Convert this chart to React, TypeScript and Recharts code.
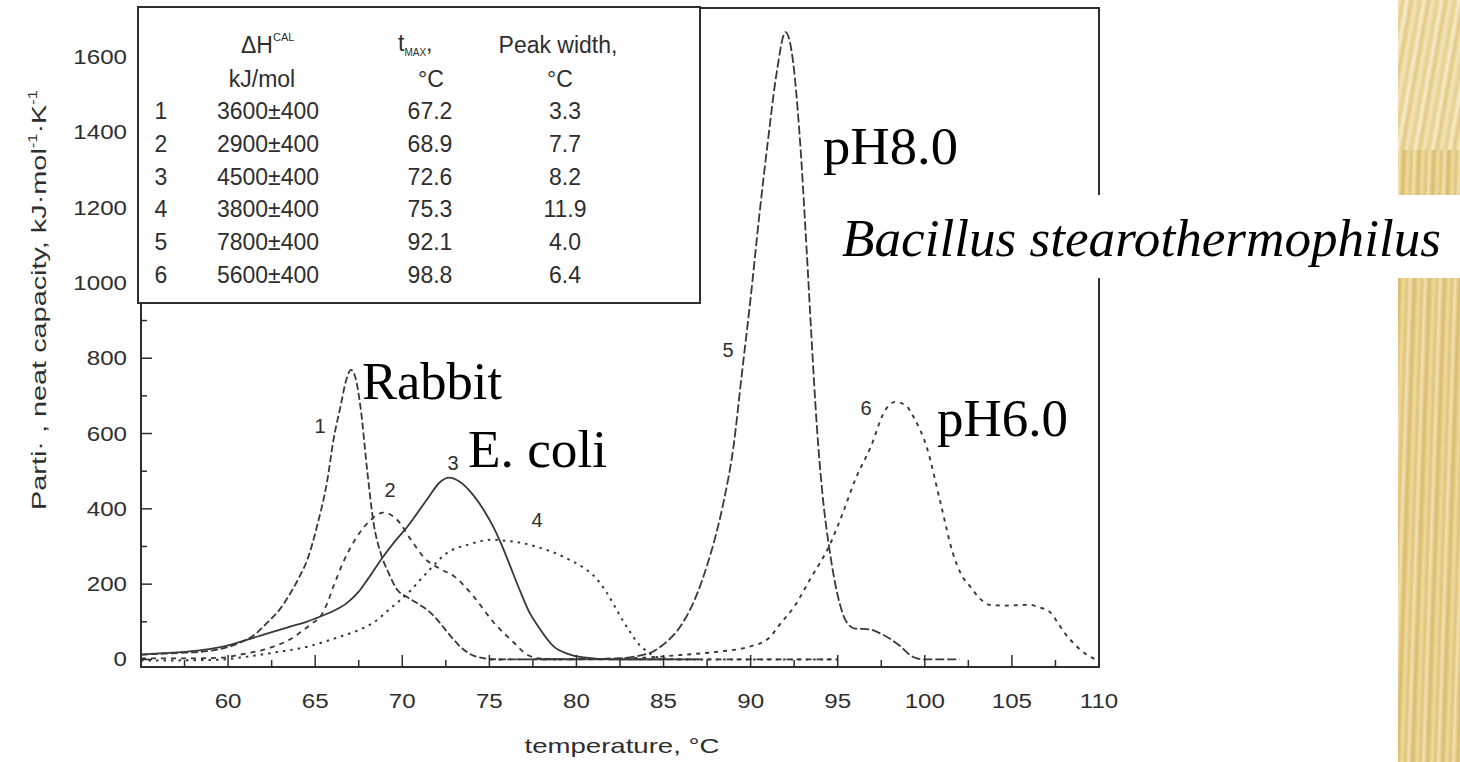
import React from 'react';
import { LineChart, Line, XAxis, YAxis, ReferenceArea } from 'recharts';

// scanned DSC curves, [temperature °C, partial heat capacity]
const curve1: [number, number][] = [
  [55, 13], [57, 17], [58.8, 22], [60, 33], [60.7, 45], [61.5, 65], [62.25, 98], [63, 135],
  [63.6, 178], [64.1, 220], [64.55, 265], [65.1, 353], [65.7, 477], [66.05, 583], [66.45, 671],
  [66.8, 745], [67.05, 769], [67.3, 750], [67.6, 671], [68.0, 496], [68.35, 363], [68.75, 284],
  [69.2, 231], [69.7, 186], [70.3, 165], [71.0, 145], [71.6, 125], [72.2, 95], [72.6, 72],
  [73.0, 50], [73.5, 27], [74.0, 12], [74.5, 5], [75.5, 0], [85, 0],
];
const curve2: [number, number][] = [
  [55, 3], [58, 3], [59.7, 5], [60.7, 13], [61.7, 22], [62.6, 34], [63.5, 52], [64.15, 72],
  [64.8, 95], [65.3, 114], [65.7, 150], [66.05, 194], [66.6, 257], [67.4, 326], [68.2, 371],
  [68.9, 390], [69.7, 371], [70.5, 318], [71.3, 268], [72.2, 240], [73.0, 220], [74.1, 167],
  [75.25, 98], [76.4, 45], [77.2, 12], [78, 2], [80, 0], [95, 0],
];
const curve3: [number, number][] = [
  [55, 13], [56.8, 18], [58.5, 25], [59.7, 34], [60.7, 47], [61.7, 61], [62.7, 75], [63.6, 88],
  [64.5, 100], [65.3, 114], [66.1, 130], [66.85, 151], [67.5, 180], [68.0, 212], [68.9, 273],
  [69.6, 315], [70.3, 353], [70.65, 375], [71.5, 430], [72.1, 468], [72.7, 483], [73.3, 472],
  [74.1, 435], [74.7, 395], [75.25, 350], [75.7, 305], [76.05, 265], [76.8, 178], [77.3, 125],
  [77.8, 88], [78.7, 34], [79.5, 15], [80.3, 6], [82.2, 0], [87, 0],
];
const curve4: [number, number][] = [
  [55, -3], [58, -2], [59.7, 0], [60.7, 5], [62.6, 18], [64.55, 34], [66.45, 61], [67.5, 78],
  [68.35, 98], [69.3, 135], [70.3, 175], [71.5, 235], [72.6, 284], [73.8, 305], [75.1, 318],
  [76.0, 315], [76.8, 310], [77.8, 298], [78.7, 284], [79.5, 267], [80.3, 247], [81.2, 212],
  [81.7, 180], [82.2, 141], [82.7, 100], [83.1, 72], [83.5, 45], [83.9, 27], [84.7, 5], [86, 0],
  [95, 0],
];
const curve5: [number, number][] = [
  [78, 0], [82, 2], [84, 14], [85, 40], [86, 90], [86.8, 160], [87.5, 250], [88, 330],
  [88.5, 430], [89, 560], [89.5, 760], [90, 960], [90.5, 1180], [91, 1380], [91.5, 1560],
  [92, 1666], [92.4, 1600], [92.8, 1400], [93.2, 1100], [93.5, 850], [93.8, 620], [94.1, 450],
  [94.5, 300], [95, 170], [95.5, 100], [96, 82], [96.8, 80], [97.5, 68], [98, 55], [98.6, 35],
  [99.2, 10], [99.6, 2], [100, 0], [102, 0],
];
const curve6: [number, number][] = [
  [75, 0], [82, 2], [84, 5], [86, 12], [88, 20], [90, 35], [91, 55], [91.8, 100], [92.5, 140],
  [93.4, 212], [94.6, 310], [95.3, 390], [96.0, 477], [96.9, 565], [97.7, 660], [98.3, 684],
  [98.9, 675], [99.4, 640], [100.1, 565], [100.9, 416], [101.6, 284], [102.1, 225], [102.6, 194],
  [103.2, 160], [103.7, 145], [104.5, 143], [106.0, 145], [106.6, 138], [107.2, 125],
  [107.6, 100], [108.0, 72], [108.5, 45], [108.9, 27], [109.4, 10], [109.8, 0],
];

const xTicks = [55, 57.5, 60, 62.5, 65, 67.5, 70, 72.5, 75, 77.5, 80, 82.5, 85, 87.5, 90, 92.5, 95, 97.5, 100, 102.5, 105, 107.5, 110];
const xLabels = [60, 65, 70, 75, 80, 85, 90, 95, 100, 105, 110];
const yTicks = [0, 100, 200, 300, 400, 500, 600, 700, 800, 900, 1000, 1100, 1200, 1300, 1400, 1500, 1600, 1700];
const yLabels = [0, 200, 400, 600, 800, 1000, 1200, 1400, 1600];

const tableRows = [
  ['1', '3600±400', '67.2', '3.3'],
  ['2', '2900±400', '68.9', '7.7'],
  ['3', '4500±400', '72.6', '8.2'],
  ['4', '3800±400', '75.3', '11.9'],
  ['5', '7800±400', '92.1', '4.0'],
  ['6', '5600±400', '98.8', '6.4'],
];

const INK = '#2e2e2e';
const SANS = '"Liberation Sans", Arial, sans-serif';
const SERIF = '"Liberation Serif", "Times New Roman", serif';

const series = [
  { id: 1, pts: curve1, dash: '7 3', w: 1.8 },
  { id: 2, pts: curve2, dash: '5 5', w: 1.8 },
  { id: 3, pts: curve3, dash: undefined, w: 1.8 },
  { id: 4, pts: curve4, dash: '2.5 5', w: 2 },
  { id: 5, pts: curve5, dash: '9 3', w: 1.8 },
  { id: 6, pts: curve6, dash: '4 5', w: 1.9 },
];

const XTick = (props: any) => {
  const { x, y, payload } = props;
  const v = payload.value;
  const major = xLabels.includes(v) || v === 55;
  return (
    <g>
      <line x1={x} x2={x} y1={y} y2={y - (major ? 12 : 7)} stroke={INK} strokeWidth={1.5} />
      {xLabels.includes(v) && (
        <text transform={`translate(${x},${y + 41}) scale(1.15,1)`} textAnchor="middle" fontFamily={SANS} fontSize={21} fill={INK}>
          {v}
        </text>
      )}
    </g>
  );
};

const YTick = (props: any) => {
  const { x, y, payload } = props;
  const v = payload.value;
  const major = yLabels.includes(v);
  return (
    <g>
      <line x1={x} x2={x + (major ? 11 : 6)} y1={y} y2={y} stroke={INK} strokeWidth={1.5} />
      {major && (
        <text transform={`translate(${x - 14},${y + 7}) scale(1.15,1)`} textAnchor="end" fontFamily={SANS} fontSize={21} fill={INK}>
          {v}
        </text>
      )}
    </g>
  );
};

export default function App() {
  return (
    <div style={{ position: 'absolute', left: 0, top: 0, width: 1460, height: 762, background: '#fff', overflow: 'hidden' }}>
      <LineChart width={1460} height={762} margin={{ top: 8, right: 361, bottom: 55, left: 0 }}>
        <XAxis
          type="number"
          dataKey="t"
          domain={[55, 110]}
          ticks={xTicks}
          interval={0}
          allowDataOverflow
          height={40}
          tickSize={0}
          tickMargin={0}
          tickLine={false}
          tick={<XTick />}
          axisLine={{ stroke: INK, strokeWidth: 2 }}
        />
        <YAxis
          type="number"
          domain={[-20, 1730]}
          ticks={yTicks}
          interval={0}
          allowDataOverflow
          width={141}
          tickSize={0}
          tickMargin={0}
          tickLine={false}
          tick={<YTick />}
          axisLine={{ stroke: INK, strokeWidth: 2 }}
        />
        <ReferenceArea x1={55} x2={110} y1={-20} y2={1730} fill="none" stroke={INK} strokeWidth={2} ifOverflow="visible" />
        {series.map((s) => (
          <Line
            key={s.id}
            data={s.pts.map(([t, v]) => ({ t, v }))}
            dataKey="v"
            type="monotone"
            stroke="#383838"
            strokeWidth={s.w}
            strokeDasharray={s.dash}
            dot={false}
            activeDot={false}
            isAnimationActive={false}
          />
        ))}
      </LineChart>

      <div
        style={{
          position: 'absolute',
          left: 1398,
          top: 0,
          width: 62,
          height: 762,
          background:
            'repeating-linear-gradient(92deg, #eedc9f 0px, #e0c47a 4px, #f1e2b2 7px, #d9bb6c 11px, #ead597 15px)',
        }}
      />
      <div
        style={{
          position: 'absolute',
          left: 1398,
          top: 0,
          width: 62,
          height: 150,
          background:
            'repeating-linear-gradient(100deg, #f3e6bd 0px, #e6cf8e 5px, #f6ecc9 9px, #e2c985 13px, #f1e2b0 17px)',
        }}
      />

      <svg width={1460} height={762} style={{ position: 'absolute', left: 0, top: 0, pointerEvents: 'none' }}>
        {/* parameter table */}
        <rect x={138} y={7} width={562} height={296} fill="#fff" stroke={INK} strokeWidth={2} />
        <g fontFamily={SANS} fill={INK} fontSize={23}>
          <text x={241} y={53}>
            ΔH<tspan fontSize={11} dy={-12}>CAL</tspan>
          </text>
          <text x={262} y={87} textAnchor="middle">kJ/mol</text>
          <text x={398} y={51}>
            t<tspan fontSize={10} dy={5}>MAX</tspan>
            <tspan dy={-5}>,</tspan>
          </text>
          <text x={431} y={87} textAnchor="middle">°C</text>
          <text x={558} y={53} textAnchor="middle">Peak width,</text>
          <text x={560} y={87} textAnchor="middle">°C</text>
          {tableRows.map((r, i) => (
            <g key={r[0]}>
              <text x={161} y={119 + i * 32.8} textAnchor="middle">{r[0]}</text>
              <text x={268} y={119 + i * 32.8} textAnchor="middle">{r[1]}</text>
              <text x={430} y={119 + i * 32.8} textAnchor="middle">{r[2]}</text>
              <text x={565} y={119 + i * 32.8} textAnchor="middle">{r[3]}</text>
            </g>
          ))}
        </g>

        {/* curve numbers */}
        <g fontFamily={SANS} fill={INK} fontSize={20} textAnchor="middle">
          <text x={320} y={433}>1</text>
          <text x={390} y={497}>2</text>
          <text x={453} y={470}>3</text>
          <text x={537} y={527}>4</text>
          <text x={728} y={357}>5</text>
          <text x={866} y={415}>6</text>
        </g>

        {/* axis titles */}
        <g fontFamily={SANS} fill={INK} fontSize={21}>
          <text x={622} y={753} textAnchor="middle" textLength={195} lengthAdjust="spacingAndGlyphs">
            temperature, °C
          </text>
          <text
            transform="translate(46,300) rotate(-90)"
            textAnchor="middle"
            textLength={420}
            lengthAdjust="spacingAndGlyphs"
          >
            Parti·  , neat capacity, kJ·mol<tspan fontSize={12} dy={-9}>-1</tspan>
            <tspan dy={9}>·K</tspan>
            <tspan fontSize={12} dy={-9}>-1</tspan>
          </text>
        </g>

        {/* slide annotations */}
        <rect x={832} y={195} width={628} height={83} fill="#fff" />
        <g fontFamily={SERIF} fill="#000" fontSize={52}>
          <text x={362} y={399} textLength={140} lengthAdjust="spacingAndGlyphs">Rabbit</text>
          <text x={468} y={467} textLength={139} lengthAdjust="spacingAndGlyphs">E. coli</text>
          <text x={823} y={164} textLength={135} lengthAdjust="spacingAndGlyphs">pH8.0</text>
          <text x={937} y={436} textLength={131} lengthAdjust="spacingAndGlyphs">pH6.0</text>
          <text x={842} y={256} fontStyle="italic" fontSize={53} textLength={599} lengthAdjust="spacingAndGlyphs">
            Bacillus stearothermophilus
          </text>
        </g>
      </svg>
    </div>
  );
}
